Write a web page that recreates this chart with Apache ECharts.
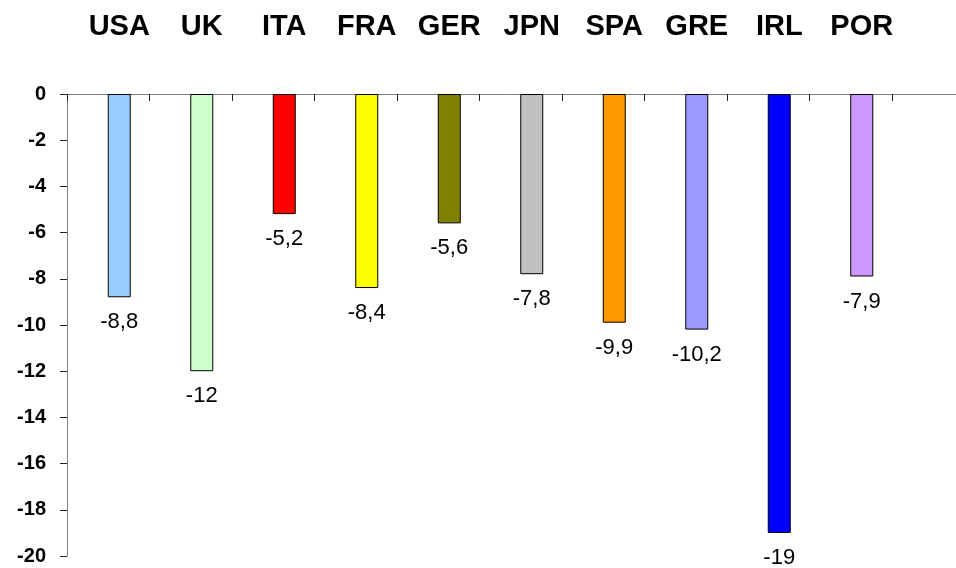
<!DOCTYPE html>
<html>
<head>
<meta charset="utf-8">
<script src="https://cdn.jsdelivr.net/npm/echarts@6/dist/echarts.min.js"></script>
<style>
  html, body { margin: 0; padding: 0; background: #fff; }
  #chart { width: 956px; height: 568px; }
</style>
</head>
<body>
<div id="chart"></div>
<script>
// data
var countries = ['USA', 'UK', 'ITA', 'FRA', 'GER', 'JPN', 'SPA', 'GRE', 'IRL', 'POR'];
var values = [-8.8, -12, -5.2, -8.4, -5.6, -7.8, -9.9, -10.2, -19, -7.9];
var barColors = ['#99CCFF', '#CCFFCC', '#FF0000', '#FFFF00', '#808000', '#C0C0C0', '#FF9900', '#9999FF', '#0000FF', '#CC99FF'];
var yMin = -20, yMax = 0, yStep = 2;

var chart = echarts.init(document.getElementById('chart'));

var font = 'Arial, "Liberation Sans", sans-serif';
var gridTop = 94, gridBottom = 12;

// y axis shared settings for hidden axes
function hiddenY(idx) {
    return { type: 'value', gridIndex: idx, min: yMin, max: yMax, interval: yStep, show: false };
}

var option = {
    animation: false,
    backgroundColor: '#fff',
    grid: [
        // axis line (runs to the edge)
        { left: 67, right: 0, top: gridTop, bottom: gridBottom },
        // category ticks
        { left: 67, width: 825, top: gridTop, bottom: gridBottom },
        // bars, shifted a bit to the right within each category
        { left: 78, width: 825, top: gridTop, bottom: gridBottom }
    ],
    xAxis: [
        {
            type: 'value', gridIndex: 0, min: 0, max: 1, position: 'top',
            axisLine: { show: true, lineStyle: { color: '#808080', width: 1 } },
            axisTick: { show: false }, axisLabel: { show: false }, splitLine: { show: false }
        },
        {
            type: 'category', gridIndex: 1, data: countries, position: 'top',
            axisLine: { show: false },
            axisTick: { show: true, inside: true, length: 7, lineStyle: { color: '#222' } },
            axisLabel: { show: false }
        },
        {
            type: 'category', gridIndex: 2, data: countries, position: 'top',
            axisLine: { show: false }, axisTick: { show: false },
            axisLabel: {
                show: true, interval: 0, hideOverlap: false, margin: 53, color: '#000',
                fontFamily: font, fontWeight: 'bold', fontSize: 29
            }
        }
    ],
    yAxis: [
        {
            type: 'value', gridIndex: 0, min: yMin, max: yMax, interval: yStep,
            axisLine: { show: true, lineStyle: { color: '#808080', width: 1 } },
            axisTick: { show: true, length: 7, lineStyle: { color: '#222' } },
            axisLabel: { margin: 21, color: '#000', fontFamily: font, fontWeight: 'bold', fontSize: 20 },
            splitLine: { show: false }
        },
        hiddenY(1),
        hiddenY(2)
    ],
    series: [{
        type: 'bar',
        xAxisIndex: 2,
        yAxisIndex: 2,
        barWidth: 23,
        data: values.map(function (v, i) {
            return { value: v, itemStyle: { color: barColors[i] } };
        }),
        itemStyle: { borderColor: '#000', borderWidth: 1 },
        label: {
            show: true, position: 'bottom', distance: 14,
            color: '#000', fontFamily: font, fontSize: 22,
            formatter: function (p) { return String(p.value).replace('.', ','); }
        }
    }]
};
chart.setOption(option);
</script>
</body>
</html>
